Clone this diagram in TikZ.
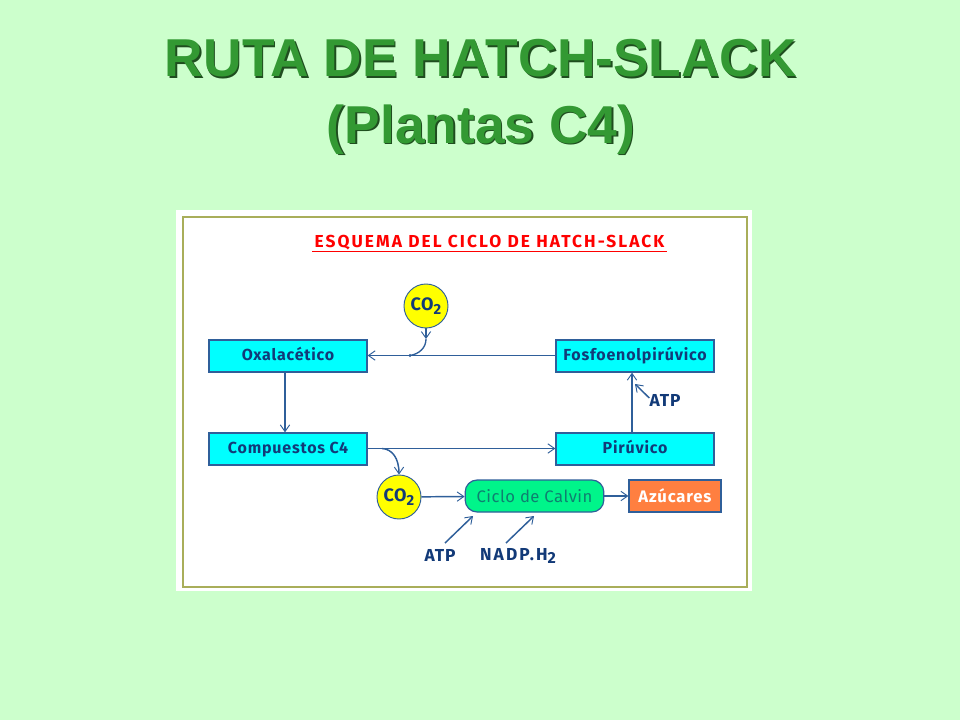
\documentclass[tikz,border=0pt]{standalone}
\usepackage{fontspec}
\setmainfont{Liberation Sans}
\newfontfamily\handfont{Fira Sans}[LetterSpace=5]
\newfontfamily\headfont{Fira Sans}[LetterSpace=12]
\newfontfamily\plainhand{Fira Sans}[LetterSpace=3]
\usetikzlibrary{arrows.meta}
\definecolor{pagebg}{HTML}{CCFFCC}
\definecolor{titlegreen}{HTML}{339933}
\definecolor{titleshadow}{HTML}{1F4D1F}
\definecolor{linkblue}{HTML}{2F5F9A}
\definecolor{inkblue}{HTML}{123A78}
\definecolor{olive}{HTML}{A9AE5A}
\definecolor{calvin}{HTML}{00F58A}
\definecolor{calvintext}{HTML}{0F7F70}
\definecolor{sugar}{HTML}{FF7F40}
\definecolor{boxcyan}{HTML}{00FFFF}
\definecolor{ballyellow}{HTML}{FFFF00}
\definecolor{headred}{HTML}{FF0000}
\tikzset{
  x=0.75pt,y=-0.75pt,
  titletext/.style={font=\fontsize{40}{44}\selectfont\bfseries,inner sep=0pt,anchor=base},
  compound/.style={draw=linkblue,line width=1pt,fill=boxcyan,minimum width=118.5pt,minimum height=24pt,inner sep=0pt,
    font=\handfont\fontsize{12}{13}\selectfont\bfseries,text=inkblue,text height=9pt,text depth=2.5pt},
  co2/.style={circle,draw=linkblue,line width=0.7pt,fill=ballyellow,minimum size=33pt,inner sep=0pt,
    font=\plainhand\fontsize{13.5}{14}\selectfont\bfseries,text=inkblue},
  flow/.style={draw=linkblue,line width=1.1pt,-{Straight Barb[length=5pt,width=7pt,line width=0.7pt]}},
  curveline/.style={draw=linkblue,line width=1pt},
  freelabel/.style={font=\handfont\fontsize{12}{13}\selectfont\bfseries,text=inkblue,inner sep=0pt},
}
\begin{document}
\begin{tikzpicture}
\useasboundingbox (0,0) rectangle (960,720);
\fill[pagebg] (0,0) rectangle (960,720);
% title with shadow
\node[titletext,text=titleshadow] at (482.5,78.5) {RUTA DE HATCH-SLACK};
\node[titletext,text=titleshadow] at (482.5,145) {(Plantas C4)};
\node[titletext,text=titlegreen] (t1) at (481,77) {RUTA DE HATCH-SLACK};
\node[titletext,text=titlegreen] (t2) at (481,143.5) {(Plantas C4)};
% panel
\fill[white] (176,210) rectangle (752,591);
\draw[olive,line width=1pt] (183,217) rectangle (747,587);
\node[font=\headfont\fontsize{13}{14}\selectfont\bfseries,text=headred,inner sep=0pt] (head) at (489.5,242.5) {ESQUEMA DEL CICLO DE HATCH-SLACK};
\draw[headred,line width=0.9pt] (312,251.5) -- (667,251.5);
% nodes
\node[compound] (oxa) at (288,356) {Oxalacético};
\node[compound] (fos) at (635,356) {Fosfoenolpirúvico};
\node[compound] (com) at (288,449) {Compuestos C4};
\node[compound] (pir) at (635,449) {Pirúvico};
\node[co2] (coa) at (426,306) {CO\raisebox{-0.35ex}{\fontsize{11}{11}\selectfont 2}};
\node[co2] (cob) at (399,497) {CO\raisebox{-0.35ex}{\fontsize{11}{11}\selectfont 2}};
\node[draw=linkblue,line width=0.9pt,fill=calvin,rounded corners=9pt,minimum width=104pt,minimum height=24pt,inner sep=0pt,
  font=\plainhand\fontsize{12.5}{14}\selectfont,text=calvintext] (cal) at (534.5,496) {Ciclo de Calvin};
\node[draw=linkblue,line width=0.9pt,fill=sugar,minimum width=69pt,minimum height=24pt,inner sep=0pt,
  font=\handfont\fontsize{12.5}{13}\selectfont\bfseries,text=white] (azu) at (675,496) {Azúcares};
\node[freelabel,font=\handfont\fontsize{13}{14}\selectfont\bfseries] (atpa) at (665,400) {ATP};
\node[freelabel,font=\handfont\fontsize{13}{14}\selectfont\bfseries] (atpb) at (440,555) {ATP};
\node[freelabel,font=\headfont\fontsize{13}{14}\selectfont\bfseries] (nadp) at (518,556) {NADP.H\raisebox{-0.4ex}{\fontsize{12}{12}\selectfont 2}};
% connectors
\coordinate (ja) at (410,355.5);
\coordinate (jb) at (382,448.5);
\coordinate (coaTip) at (426,339);
\draw[flow] (fos.west |- ja) -- (oxa.east |- ja);
\draw[flow] ([xshift=-2.25pt]oxa.south) -- ([xshift=-2.25pt]com.north);
\draw[flow] (com.east |- jb) -- (pir.west |- jb);
\draw[flow] ([xshift=-2.25pt]pir.north) -- ([xshift=-2.25pt]fos.south);
\draw[flow] (coa.south) -- (coaTip);
\draw[curveline] (coaTip) .. controls (426,348) and (419,354) .. (ja);
\fill[linkblue] (ja) circle (1.2pt);
\draw[flow] (jb) .. controls (392,449) and (399,458) .. (cob.north);
\draw[flow] (cob) -- (cal);
\draw[flow] (cal) -- (azu);
\coordinate (atpaTip) at (635,384);
\draw[flow] ([yshift=1.5pt]atpa.west) -- (atpaTip);
\coordinate (atpbTip) at (473,516);
\coordinate (nadpTip) at (534,516);
\coordinate (atpbTail) at (445,543);
\coordinate (nadpTail) at (506,543);
\draw[flow] (atpbTail) -- (atpbTip);
\draw[flow] (nadpTail) -- (nadpTip);
\end{tikzpicture}
\end{document}
